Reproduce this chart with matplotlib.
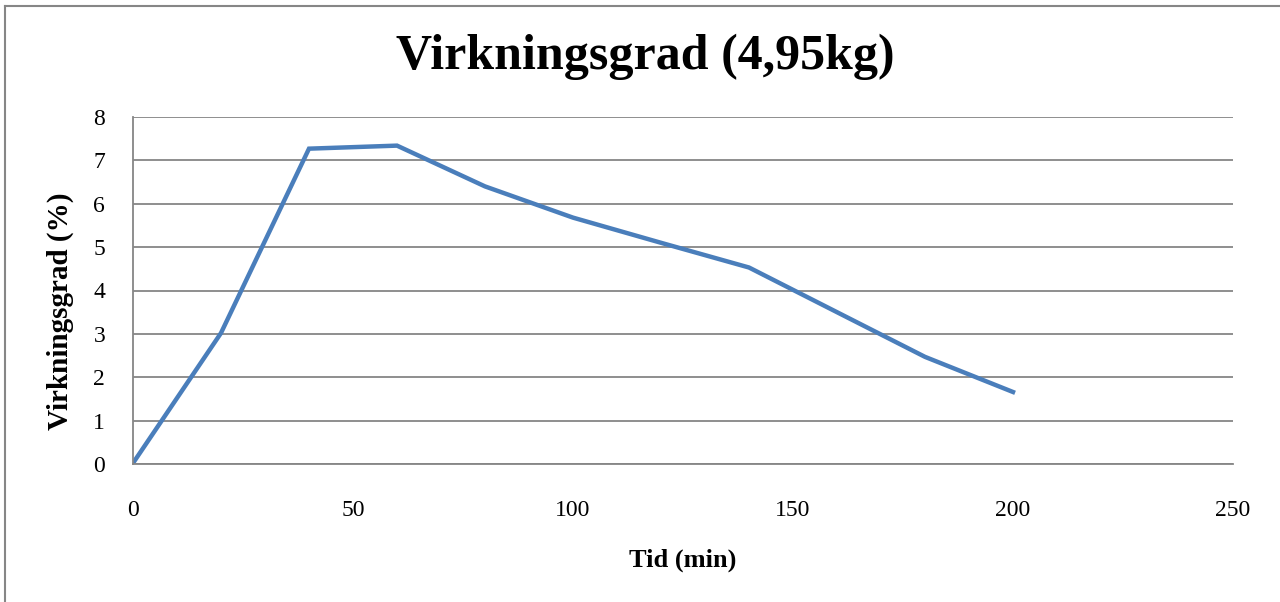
import matplotlib
matplotlib.use('Agg')
import matplotlib.pyplot as plt
from matplotlib.lines import Line2D

tid = [0, 20, 40, 60, 80, 100, 120, 140, 160, 180, 200]
virkningsgrad = [0.02, 3.02, 7.27, 7.34, 6.4, 5.68, 5.1, 4.53, 3.5, 2.47, 1.66]
xticks = [0, 50, 100, 150, 200, 250]
yticks = [0, 1, 2, 3, 4, 5, 6, 7, 8]

plt.rcParams['font.family'] = ['Liberation Serif', 'DejaVu Serif']
grey = '#868686'

fig = plt.figure(figsize=(12.8, 6.02), dpi=100)
ax = fig.add_axes([133 / 1280, 1 - 464 / 602, 1100 / 1280, 347 / 602])

ax.plot(tid, virkningsgrad, color='#4A7EBB', lw=3.2, solid_joinstyle='miter')

ax.set_xlim(0, 250)
ax.set_ylim(0, 8)
ax.set_xticks(xticks)
ax.set_yticks(yticks)
ax.tick_params(axis='both', length=0, labelsize=17)
ax.tick_params(axis='x', pad=26)
ax.tick_params(axis='y', pad=20)
ax.grid(axis='y', color=grey, lw=1.3)
ax.set_axisbelow(True)
for side in ['top', 'right']:
    ax.spines[side].set_visible(False)
for side in ['left', 'bottom']:
    ax.spines[side].set_color(grey)
    ax.spines[side].set_linewidth(1.3)

ax.set_xlabel('Tid (min)', fontsize=19, fontweight='bold', va='center')
ax.xaxis.set_label_coords(0.5, -(560 - 464) / 347)
ax.set_ylabel('Virkningsgrad (%)', fontsize=21, fontweight='bold', va='center')
ax.yaxis.set_label_coords(-(133 - 60) / 1100, (464 - 311) / 347)
fig.text(645 / 1280, 1 - 57 / 602, 'Virkningsgrad (4,95kg)', fontsize=36,
         fontweight='bold', ha='center', va='center')

# outer chart frame
fig.add_artist(Line2D([5 / 1280, 5 / 1280], [0, 1 - 6 / 602], color=grey, lw=1.5))
fig.add_artist(Line2D([5 / 1280, 1], [1 - 6 / 602, 1 - 6 / 602], color=grey, lw=1.5))

fig.savefig('out.png', dpi=100)
